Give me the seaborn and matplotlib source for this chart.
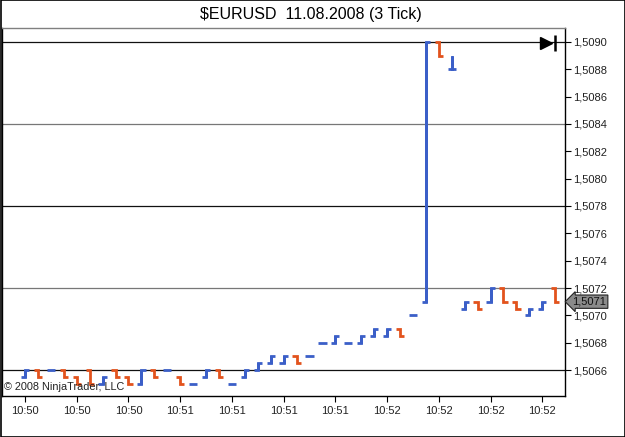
import numpy as np
import pandas as pd
import matplotlib
matplotlib.use("Agg")
import matplotlib.pyplot as plt
import matplotlib.transforms as mtransforms
from matplotlib.patches import Rectangle
import seaborn as sns

# ---- data (3-tick bars, EURUSD) ----
opens = [1.50655, 1.5066, 1.5066, 1.5066, 1.50655, 1.5066, 1.5065, 1.5066, 1.50655, 1.5065,
         1.5066, 1.5066, 1.50655, 1.5065, 1.50655, 1.5066, 1.5065, 1.50655, 1.5066, 1.50665,
         1.50665, 1.5067, 1.5067, 1.5068, 1.5068, 1.5068, 1.5068, 1.50685, 1.50685, 1.5069,
         1.5070, 1.5071, 1.5090, 1.5088, 1.50705, 1.5071, 1.5071, 1.5072, 1.5071, 1.5070,
         1.50705, 1.5072]
closes = [1.5066, 1.50655, 1.5066, 1.50655, 1.5065, 1.5065, 1.50655, 1.50655, 1.5065, 1.5066,
          1.50655, 1.5066, 1.5065, 1.5065, 1.5066, 1.50655, 1.5065, 1.5066, 1.50665, 1.5067,
          1.5067, 1.50665, 1.5067, 1.5068, 1.50685, 1.5068, 1.50685, 1.5069, 1.5069, 1.50685,
          1.5070, 1.5090, 1.5089, 1.5088, 1.5071, 1.50705, 1.5072, 1.5071, 1.50705, 1.50705,
          1.5071, 1.5071]
highs = [max(o, c) for o, c in zip(opens, closes)]
highs[33] = 1.5089
lows = [min(o, c) for o, c in zip(opens, closes)]

tick_idx = [0, 4, 8, 12, 16, 20, 24, 28, 32, 36, 40]
tick_labels = ["10:50", "10:50", "10:50", "10:51", "10:51", "10:51", "10:51",
               "10:52", "10:52", "10:52", "10:52"]
grid_levels = [1.5066, 1.5072, 1.5078, 1.5084, 1.5090]
last_price = 1.5071
title = "$EURUSD  11.08.2008 (3 Tick)"

UP = "#3b5fc8"
DOWN = "#e2531d"

sns.set_style("white")
plt.rcParams["font.family"] = ["Liberation Sans", "DejaVu Sans"]

# build OHLC tick paths
w = 0.32
rows = []
for i, (o, h, l, c) in enumerate(zip(opens, highs, lows, closes)):
    d = "up" if c >= o else "down"
    pts = [(i - w, o), (i, o), (i, h), (i, l), (i, c), (i + w, c)]
    for k, (x, y) in enumerate(pts):
        rows.append({"bar": i, "order": k, "x": x, "price": y, "dir": d})
df = pd.DataFrame(rows)

fig = plt.figure(figsize=(6.25, 4.37), dpi=100)
ax = fig.add_axes([2 / 625, 1 - 396 / 437, (565 - 2) / 625, (396 - 28) / 437])

for lv, col in zip(grid_levels, ["#111111", "#777777", "#111111", "#777777", "#111111"]):
    ax.axhline(lv, color=col, lw=0.9, zorder=1)

sns.lineplot(data=df, x="x", y="price", hue="dir", units="bar", estimator=None,
             sort=False, palette={"up": UP, "down": DOWN}, lw=2.0, legend=False,
             ax=ax, zorder=3)
for line in ax.get_lines():
    line.set_solid_joinstyle("miter")
    line.set_solid_capstyle("butt")

ax.set_xlim(-1.78, 41.76)
ax.set_ylim(1.50641, 1.509102)
ax.set_xlabel("")
ax.set_ylabel("")

ax.set_xticks(tick_idx)
ax.set_xticklabels(tick_labels, fontsize=8)
ax.yaxis.tick_right()
yt = np.arange(1.5066, 1.50905, 0.0002)
ax.set_yticks(yt)
ax.set_yticklabels([f"{v:.4f}".replace(".", ",") for v in yt], fontsize=8)
ax.tick_params(axis="x", direction="out", length=4, width=0.8, pad=3, colors="black", bottom=True)
ax.tick_params(axis="y", direction="out", length=4, width=0.8, pad=1.5, colors="black", right=True)
ax.tick_params(axis="x", labelcolor="#222222")
ax.tick_params(axis="y", labelcolor="#222222")

for s in ["left", "right", "bottom"]:
    ax.spines[s].set_color("black")
    ax.spines[s].set_linewidth(1.0)
ax.spines["top"].set_color("#808080")
ax.spines["top"].set_linewidth(1.0)
for s in ax.spines.values():
    s.set_visible(True)

# last price marker on the right axis
trans = mtransforms.blended_transform_factory(ax.transAxes, ax.transData)
ax.text(1.013, last_price, f"{last_price:.4f}".replace(".", ","), transform=trans,
        fontsize=8, va="center", ha="left", color="#111111", clip_on=False,
        bbox=dict(boxstyle="larrow,pad=0.15", fc="#8a8a8a", ec="#222222", lw=0.8))

# "scroll to end" icon
ax.plot([0.967], [0.959], marker=">", ms=9, color="black", transform=ax.transAxes, clip_on=False)
ax.plot([0.982], [0.959], marker="|", ms=12, mew=1.8, color="black", transform=ax.transAxes, clip_on=False)

ax.text(0.004, 0.012, "\u00a9 2008 NinjaTrader, LLC", transform=ax.transAxes,
        fontsize=7.8, color="#222222", ha="left", va="bottom")

fig.text(0.497, 1 - 14 / 437, title, ha="center", va="center", fontsize=11.5, color="black")

fig.patches.append(Rectangle((0.0008, 0.001), 0.9984, 0.998, transform=fig.transFigure,
                             fill=False, ec="black", lw=1.2))

fig.savefig("out.png", dpi=100)
